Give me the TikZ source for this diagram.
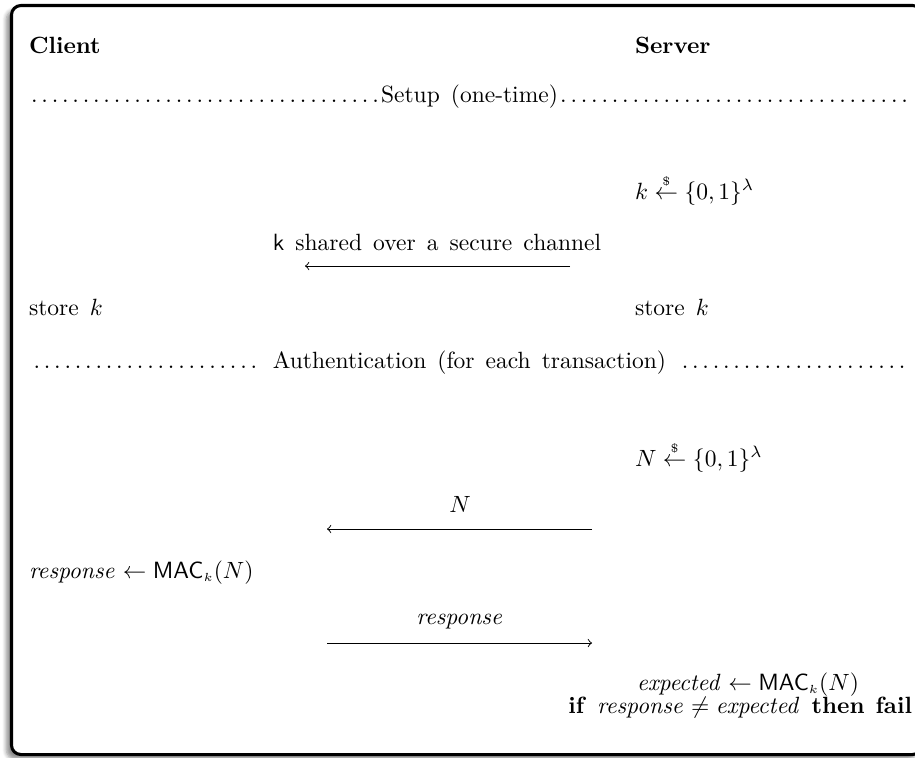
\documentclass[tikz,border=0pt]{standalone}
\usepackage{amsmath}
\usetikzlibrary{shadows.blur}
\newcommand\widesp{\spaceskip=4.7pt plus 1pt minus 1pt\relax}
\newcommand\rnd{\mathrel{\stackrel{\scriptscriptstyle\$}{\leftarrow}}}
\newcommand\mac{\mathsf{MAC}_{\scriptscriptstyle k}}
\begin{document}
\begin{tikzpicture}[x=0.4255pt,y=-0.4255pt,
  txt/.style={inner sep=0pt,outer sep=0pt,font=\widesp},
  lft/.style={txt,anchor=base west},
  ctr/.style={txt,anchor=base},
  msg/.style={line width=0.4pt,-to},
  phase/.style={txt,anchor=base,text width=375pt,align=center}]
\useasboundingbox (0,0) rectangle (915,757);
\clip (0,0) rectangle (915,757);
% frame
\draw[line width=1.3pt,rounded corners=4pt,fill=white,
  blur shadow={shadow xshift=-2.2pt,shadow yshift=-2pt,shadow blur steps=6,shadow opacity=45}]
  (11.5,5.5) rectangle (922,754.5);
% headers
\node[lft] (client) at (29,53) {\textbf{Client}};
\node[lft] (server) at (635,53) {\textbf{Server}};
% setup
\node[phase] (setup) at (469.5,102) {\widesp\dotfill Setup (one-time)\dotfill};
\node[lft] (genk) at (635,199) {$k \rnd \{0,1\}^{\lambda}$};
\node[ctr] (sharelbl) at (437,250) {\textsf{k} shared over a secure channel};
\coordinate (a1s) at (570,266);
\coordinate (a1e) at (305,266);
\draw[msg] (a1s) -- (a1e);
\node[lft] (cstore) at (29,315) {store $k$};
\node[lft] (sstore) at (635,315) {store $k$};
% authentication
\node[phase] (auth) at (469.5,368) {\widesp\dotfill\ Authentication (for each transaction)\ \dotfill};
\node[lft] (genN) at (635,466) {$N \rnd \{0,1\}^{\lambda}$};
\node[ctr] (Nlbl) at (460,512) {$N$};
\coordinate (a2s) at (592,529);
\coordinate (a2e) at (327,529);
\draw[msg] (a2s) -- (a2e);
\node[lft] (resp) at (29,578) {$\mathit{response} \leftarrow \mac(N)$};
\node[ctr] (resplbl) at (460,624) {$\mathit{response}$};
\coordinate (a3s) at (327,643);
\coordinate (a3e) at (592,643);
\draw[msg] (a3s) -- (a3e);
\node[lft] (exp) at (637,690) {$\mathit{expected} \leftarrow \mac(N)$};
\node[txt,anchor=base east] (check) at (912,713) {\textbf{if} $\mathit{response} \neq \mathit{expected}$ \textbf{then fail}};
\end{tikzpicture}
\end{document}
